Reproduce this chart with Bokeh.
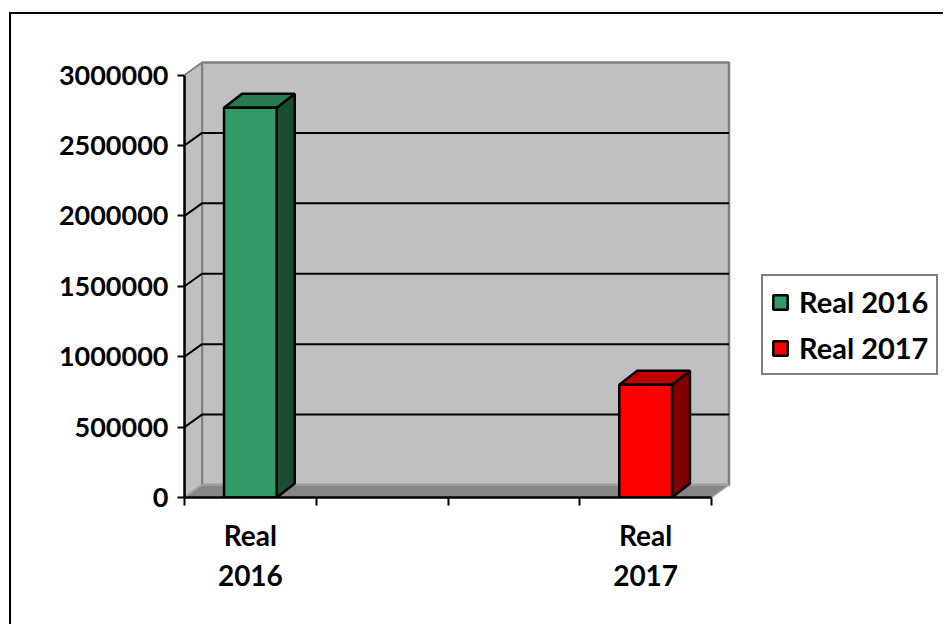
from bokeh.plotting import figure
from bokeh.models import (Range1d, FixedTicker, Legend, LegendItem,
                          ColumnDataSource, NumeralTickFormatter)
from bokeh.embed import file_html
from bokeh.resources import INLINE

# ---------------- data ----------------
categories = ["Real 2016", "", "", "Real 2017"]
series_names = ["Real 2016", "Real 2017"]
real_2016 = [2767000, None, None, None]
real_2017 = [None, None, None, 800000]
y_ticks = [0, 500000, 1000000, 1500000, 2000000, 2500000, 3000000]

# ---------------- style ----------------
FONT = "Lato"
Y_FONT_SIZE = "27px"
X_FONT_SIZE = "28px"
LEG_FONT_SIZE = "29px"
FRONT = ["#339966", "#FF0000"]
TOP = ["#287A52", "#C00000"]
SIDE = ["#1B4D34", "#800000"]
WALL = "#C0C0C0"
WALL_EDGE = "#808080"
FLOOR = "#868686"

OX, OY = 11, 14                  # canvas origin inside the window (after border)
CANVAS_W, CANVAS_H = 934, 612
FRAME_L, FRAME_B = 184 - OX, 497 - OY
SLOT_PX = 131.75
Y_PX = 422.5
FRAME_W, FRAME_H = CANVAS_W - FRAME_L - 2, 437
WALL_DX, WALL_DY = 17.5, 12.5
BAR_DX, BAR_DY = 18, 14
BAR_W = 0.4

n = len(categories)
y_max = y_ticks[-1]
ux = 1.0 / SLOT_PX
uy = y_max / Y_PX

p = figure(width=CANVAS_W, height=CANVAS_H, output_backend="svg",
           toolbar_location=None,
           x_range=Range1d(0, FRAME_W * ux), y_range=Range1d(0, FRAME_H * uy),
           min_border_left=FRAME_L, min_border_right=CANVAS_W - FRAME_L - FRAME_W,
           min_border_top=FRAME_B - FRAME_H, min_border_bottom=CANVAS_H - FRAME_B)
p.outline_line_color = None
p.grid.visible = False
p.background_fill_color = "white"
p.border_fill_color = "white"
p.styles = {"border-left": "2px solid black", "border-top": "2px solid black",
            "margin-left": "9px", "margin-top": "12px"}

wdx, wdy = WALL_DX * ux, WALL_DY * uy
# back wall
p.patch([wdx, n + wdx, n + wdx, wdx], [wdy, wdy, y_max + wdy, y_max + wdy],
        fill_color=WALL, line_color=WALL_EDGE, line_width=2.5)
# side wall
p.patch([0, wdx, wdx, 0], [0, wdy, y_max + wdy, y_max],
        fill_color=WALL, line_color=WALL_EDGE, line_width=2)
# floor
p.patch([0, n, n + wdx, wdx], [0, 0, wdy, wdy],
        fill_color=FLOOR, line_color="#A6A6A6", line_width=1.5)

# gridlines on side and back wall
gx, gy = [], []
for v in y_ticks[1:-1]:
    gx.append([0, wdx, n + wdx])
    gy.append([v, v + wdy, v + wdy])
p.multi_line(gx, gy, line_color="black", line_width=2)

# bars
bdx, bdy = BAR_DX * ux, BAR_DY * uy
legend_items = []
for k, (name, vals) in enumerate(zip(series_names, [real_2016, real_2017])):
    xs = [i + 0.5 for i, v in enumerate(vals) if v is not None]
    tops = [v for v in vals if v is not None]
    side_x, side_y, top_x, top_y = [], [], [], []
    for x, t in zip(xs, tops):
        x0, x1 = x - BAR_W / 2, x + BAR_W / 2
        side_x.append([x1, x1 + bdx, x1 + bdx, x1])
        side_y.append([0, bdy, t + bdy, t])
        top_x.append([x0, x1, x1 + bdx, x0 + bdx])
        top_y.append([t, t, t + bdy, t + bdy])
    p.patches(side_x, side_y, fill_color=SIDE[k], line_color="black", line_width=2.5)
    p.patches(top_x, top_y, fill_color=TOP[k], line_color="black", line_width=2.5)
    src = ColumnDataSource(dict(x=xs, top=tops))
    r = p.vbar(x="x", top="top", bottom=0, width=BAR_W, source=src,
               fill_color=FRONT[k], line_color="black", line_width=2.5)
    legend_items.append(LegendItem(label=name, renderers=[r]))

# axes
xa = p.xaxis[0]
xa.ticker = FixedTicker(ticks=[i + 0.5 for i in range(n)], minor_ticks=list(range(n + 1)))
xa.major_label_overrides = {i + 0.5: c.replace(" ", "\n") for i, c in enumerate(categories)}
xa.bounds = (0, n)
xa.major_tick_out = 0
xa.major_tick_in = 0
xa.minor_tick_out = 8
xa.minor_tick_in = 0
xa.minor_tick_line_color = "black"
xa.minor_tick_line_width = 2
xa.axis_line_color = "black"
xa.axis_line_width = 2.5
xa.major_label_standoff = 12
xa.major_label_text_line_height = 1.2
xa.major_label_text_font_size = X_FONT_SIZE

ya = p.yaxis[0]
ya.ticker = FixedTicker(ticks=y_ticks, minor_ticks=[])
ya.formatter = NumeralTickFormatter(format="0")
ya.bounds = (0, y_max)
ya.major_tick_out = 7
ya.major_tick_in = 0
ya.major_tick_line_color = "black"
ya.major_tick_line_width = 2
ya.axis_line_color = "black"
ya.axis_line_width = 2.5
ya.major_label_standoff = 9
ya.major_label_text_font_size = Y_FONT_SIZE

for ax in (xa, ya):
    ax.major_label_text_font = FONT
    ax.major_label_text_font_style = "bold"
    ax.major_label_text_color = "black"

legend = Legend(items=legend_items, location=(577, 122),
                label_text_font=FONT, label_text_font_style="bold",
                label_text_font_size=LEG_FONT_SIZE, label_text_color="black",
                glyph_width=18, glyph_height=18, label_standoff=10,
                padding=8, spacing=11, margin=0,
                border_line_color="black", border_line_width=2,
                background_fill_color="white", background_fill_alpha=1.0)
p.add_layout(legend)

open("out.html", "w").write(file_html(p, INLINE))
